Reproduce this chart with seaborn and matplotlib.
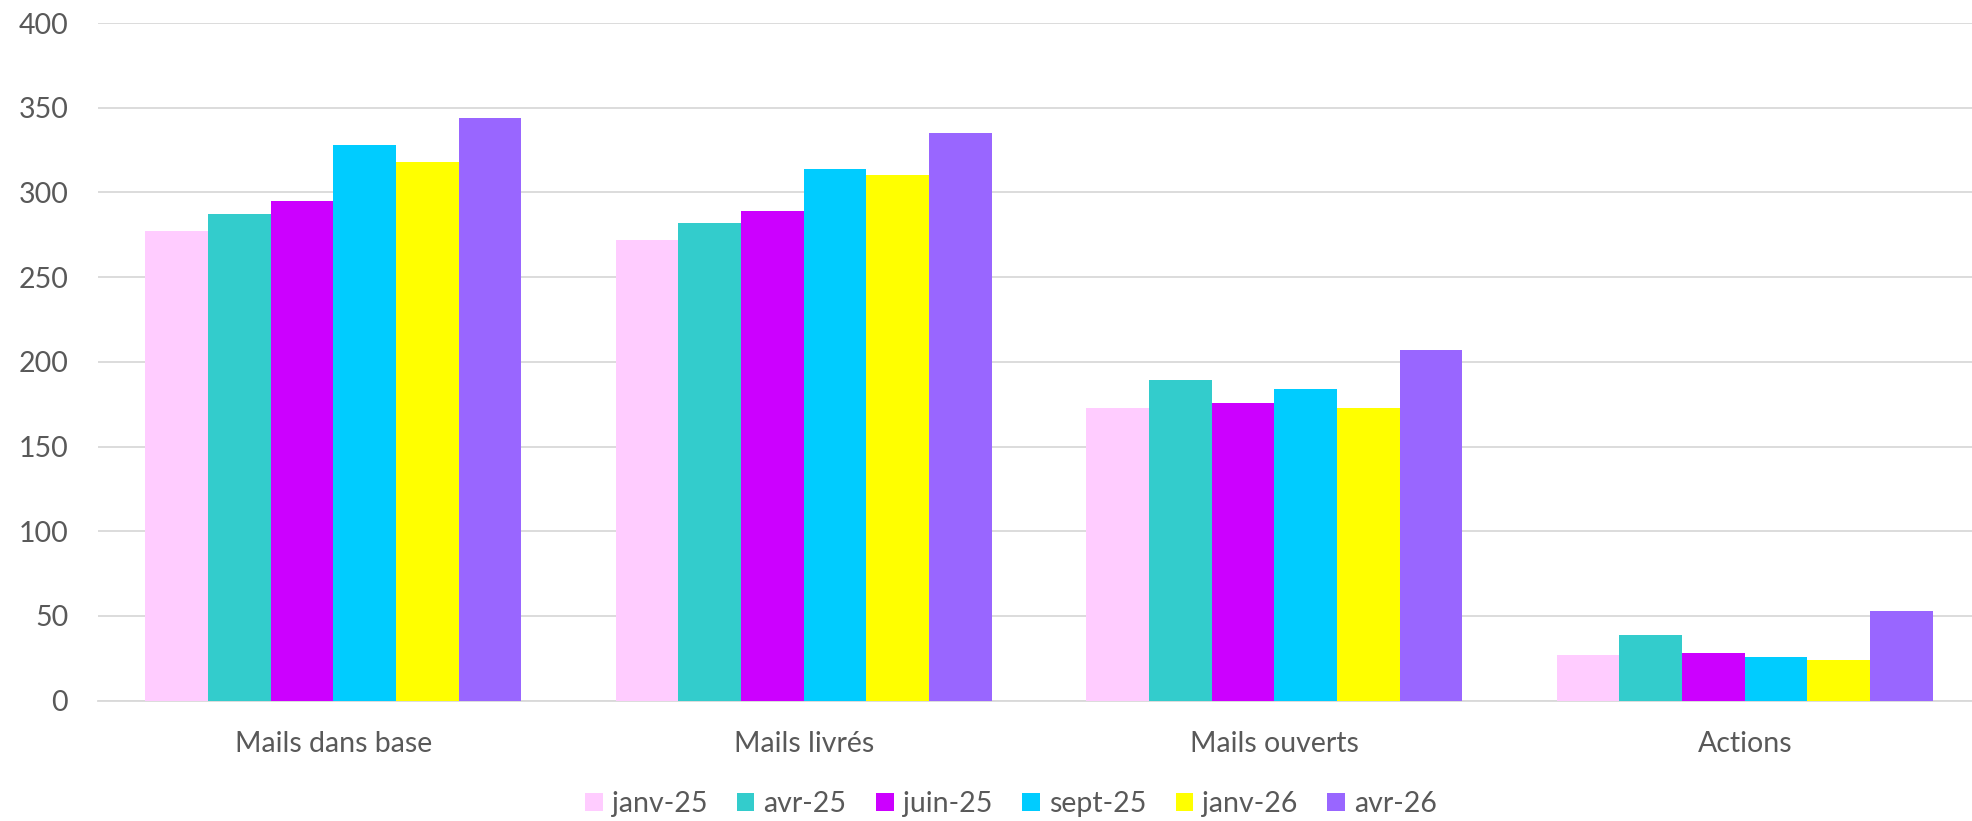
import matplotlib
matplotlib.use("Agg")
import matplotlib.pyplot as plt
import seaborn as sns
import pandas as pd

categories = ["Mails dans base", "Mails livrés", "Mails ouverts", "Actions"]
periods = ["janv-25", "avr-25", "juin-25", "sept-25", "janv-26", "avr-26"]
janv_25 = [277, 272, 173, 27]
avr_25 = [287, 282, 189, 39]
juin_25 = [295, 289, 176, 28]
sept_25 = [328, 314, 184, 26]
janv_26 = [318, 310, 173, 24]
avr_26 = [344, 335, 207, 53]
colors = ["#FFCCFF", "#33CCCC", "#CC00FF", "#00CCFF", "#FFFF00", "#9966FF"]
yticks = [0, 50, 100, 150, 200, 250, 300, 350, 400]

series = [janv_25, avr_25, juin_25, sept_25, janv_26, avr_26]
rows = []
for p, vals in zip(periods, series):
    for c, v in zip(categories, vals):
        rows.append({"cat": c, "period": p, "value": v})
df = pd.DataFrame(rows)

sns.set_theme(style="white")
plt.rcParams["font.family"] = ["Lato", "DejaVu Sans"]
text_color = "#595959"
fs = 20.5

W, H = 1972, 821
fig = plt.figure(figsize=(W / 100, H / 100), dpi=100)
ax_left, ax_right, ax_top, ax_bottom = 98, 1980, 23, 700.7
ax = fig.add_axes([ax_left / W, 1 - ax_bottom / H, (ax_right - ax_left) / W, (ax_bottom - ax_top) / H])

sns.barplot(data=df, x="cat", y="value", hue="period", order=categories,
            hue_order=periods, palette=colors, width=0.8, saturation=1,
            edgecolor="none", linewidth=0, ax=ax, legend=True, zorder=3)

ax.set_ylim(0, 400)
ax.set_xlim(-0.5, 3.5)
ax.set_yticks(yticks)
ax.yaxis.grid(True, color="#D9D9D9", linewidth=1.3, zorder=0)
ax.xaxis.grid(False)
ax.set_axisbelow(True)
for s in ["top", "right", "left"]:
    ax.spines[s].set_visible(False)
ax.spines["bottom"].set_color("#D9D9D9")
ax.spines["bottom"].set_linewidth(1.3)
ax.tick_params(axis="y", length=0, pad=21.5, labelsize=fs, labelcolor=text_color)
ax.tick_params(axis="x", length=0, pad=21.5, labelsize=fs, labelcolor=text_color)
ax.set_xlabel("")
ax.set_ylabel("")

handles, labels = ax.get_legend_handles_labels()
ax.get_legend().remove()
fig.legend(handles, labels, loc="center", bbox_to_anchor=(1011 / W, 1 - 804 / H),
           ncol=6, frameon=False, fontsize=fs, labelcolor=text_color,
           handlelength=0.62, handleheight=0.62, handletextpad=0.32,
           columnspacing=1.04, borderpad=0)

fig.savefig("out.png", dpi=100, facecolor="white")
